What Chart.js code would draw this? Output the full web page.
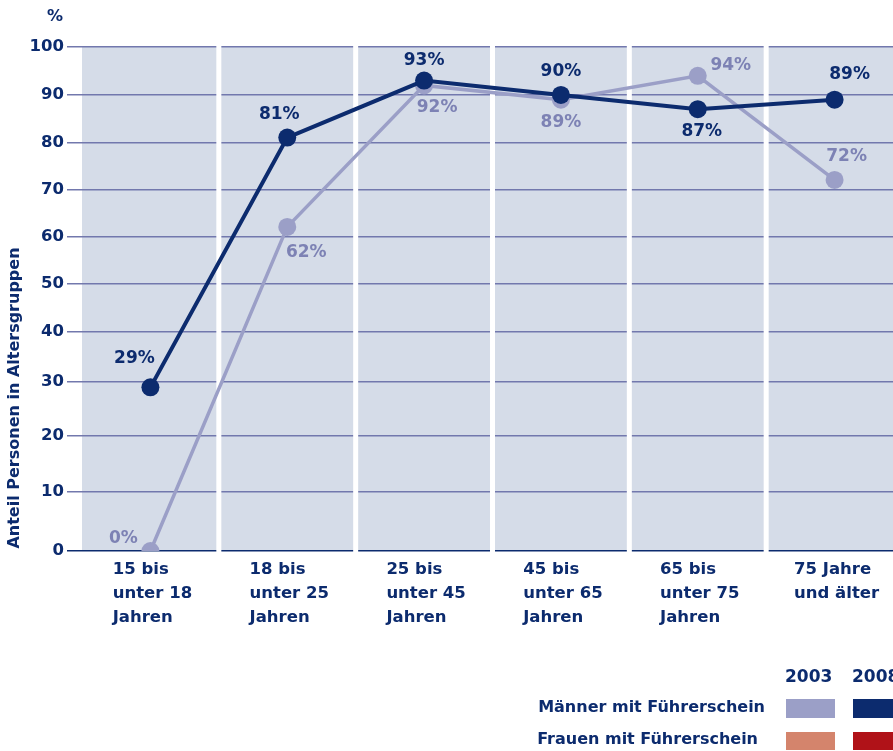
<!DOCTYPE html>
<html><head><meta charset="utf-8">
<script src="https://cdn.jsdelivr.net/npm/chart.js@4/dist/chart.umd.min.js"></script>
<style>
html,body{margin:0;padding:0;overflow:hidden;background:#fff;width:893px;height:751px}
#wrap{position:relative;width:920px;height:751px}
</style></head>
<body><div id="wrap"><canvas id="c" width="920" height="751"></canvas></div>
<script>
// ---- data ----
const categories = [["15 bis","unter 18","Jahren"],["18 bis","unter 25","Jahren"],["25 bis","unter 45","Jahren"],["45 bis","unter 65","Jahren"],["65 bis","unter 75","Jahren"],["75 Jahre","und älter"]];
const maenner2003 = [0, 62, 92, 89, 94, 72];
const maenner2008 = [29, 81, 93, 90, 87, 89];
const yTickValues = [0, 10, 20, 30, 40, 50, 60, 70, 80, 90, 100];
const seriesYears = ["2003", "2008"];
const legendRows = ["Männer mit Führerschein", "Frauen mit Führerschein"];
const yAxisTitle = "Anteil Personen in Altersgruppen";
const yUnit = "%";

// ---- layout / style (not data) ----
const yTickFractions = [0, .1171, .2290, .3353, .4345, .5302, .6244, .7177, .8109, .9048, 1];
const label2008Offsets = [[-16,-29],[-8,-23],[0,-20],[0,-23],[4,22],[15,-25]];
const label2003Offsets = [[-27,-12],[19,26],[13,22],[0,23],[33,-10],[12,-23]];
const NAVY = '#0c2b6e', LIGHT = '#9b9fc7', LIGHT_TXT = '#7d82b4', GRID = '#7278ad', BG = '#d5dce8';
const FEM03 = '#d4846c', FEM08 = '#b01218';
const FONT = '"DejaVu Sans", sans-serif';

function toFraction(v){
  for (let i=0;i<yTickValues.length-1;i++){
    const a=yTickValues[i], b=yTickValues[i+1];
    if (v<=b || i===yTickValues.length-2){
      return yTickFractions[i] + (v-a)/(b-a)*(yTickFractions[i+1]-yTickFractions[i]);
    }
  }
  return 0;
}
function fromFraction(f){
  for (let i=0;i<yTickFractions.length-1;i++){
    const a=yTickFractions[i], b=yTickFractions[i+1];
    if (f<=b || i===yTickFractions.length-2){
      return yTickValues[i] + (f-a)/(b-a)*(yTickValues[i+1]-yTickValues[i]);
    }
  }
  return 0;
}
class PiecewiseScale extends Chart.LinearScale {
  getPixelForValue(value){ return value===null?NaN:this.getPixelForDecimal(toFraction(value)); }
  getValueForPixel(pixel){ return fromFraction(this.getDecimalForPixel(pixel)); }
}
PiecewiseScale.id = 'piecewise';
PiecewiseScale.defaults = Chart.LinearScale.defaults;
Chart.register(PiecewiseScale);

const decor = {
  id: 'decor',
  beforeDraw(chart){
    const {ctx, chartArea:a} = chart;
    ctx.save();
    ctx.fillStyle = BG;
    ctx.fillRect(a.left, a.top, a.right-a.left, a.bottom-a.top);
    ctx.restore();
  },
  beforeDatasetsDraw(chart){
    const {ctx, chartArea:a} = chart;
    const w = (a.right-a.left)/categories.length;
    ctx.save();
    ctx.fillStyle = '#fff';
    for (let i=1;i<categories.length;i++){
      const xb = a.left + i*w;
      ctx.fillRect(xb-2.5, a.top-2, 5, a.bottom-a.top+4);
    }
    ctx.restore();
  },
  afterDraw(chart){
    const {ctx, chartArea:a, scales:{x,y}} = chart;
    ctx.save();
    ctx.font = 'bold 16.5px ' + FONT;
    ctx.textBaseline = 'middle';
    // x labels
    ctx.fillStyle = NAVY;
    ctx.textAlign = 'left';
    categories.forEach((lines,i)=>{
      const cx = x.getPixelForValue(i);
      const mw = Math.max(...lines.map(l=>ctx.measureText(l).width));
      lines.forEach((l,j)=> ctx.fillText(l, cx-mw/2+2, a.bottom+19+j*24));
    });
    // data labels
    ctx.font = 'bold 17px ' + FONT;
    ctx.textAlign = 'center';
    maenner2008.forEach((v,i)=>{
      ctx.fillStyle = NAVY;
      ctx.fillText(v+'%', x.getPixelForValue(i)+label2008Offsets[i][0], y.getPixelForValue(v)+label2008Offsets[i][1]);
    });
    maenner2003.forEach((v,i)=>{
      ctx.fillStyle = LIGHT_TXT;
      ctx.fillText(v+'%', x.getPixelForValue(i)+label2003Offsets[i][0], y.getPixelForValue(v)+label2003Offsets[i][1]);
    });
    // unit
    ctx.fillStyle = NAVY;
    ctx.font = 'bold 16px ' + FONT;
    ctx.fillText(yUnit, 55, 17);
    // y title
    ctx.save();
    ctx.translate(15, 398);
    ctx.rotate(-Math.PI/2);
    ctx.fillText(yAxisTitle, 0, 0);
    ctx.restore();
    // legend
    ctx.font = 'bold 17px ' + FONT;
    ctx.textAlign = 'left';
    ctx.fillText(seriesYears[0], 785, 678);
    ctx.fillText(seriesYears[1], 852, 678);
    ctx.font = 'bold 16px ' + FONT;
    ctx.textAlign = 'right';
    ctx.fillText(legendRows[0], 765, 708);
    ctx.fillText(legendRows[1], 758, 740);
    ctx.fillStyle = LIGHT; ctx.fillRect(786, 699, 49, 19);
    ctx.fillStyle = NAVY; ctx.fillRect(853, 699, 49, 19);
    ctx.fillStyle = FEM03; ctx.fillRect(786, 732, 49, 18);
    ctx.fillStyle = FEM08; ctx.fillRect(853, 732, 49, 18);
    ctx.restore();
  }
};

new Chart(document.getElementById('c'), {
  type: 'line',
  data: {
    labels: categories.map(c=>c.join(' ')),
    datasets: [
      { label: '2008', data: maenner2008, borderColor: NAVY, backgroundColor: NAVY, borderWidth: 4,
        pointRadius: 9, pointHoverRadius: 9, pointBorderWidth: 0, tension: 0, order: 0 },
      { label: '2003', data: maenner2003, borderColor: LIGHT, backgroundColor: LIGHT, borderWidth: 3.5,
        pointRadius: 9, pointHoverRadius: 9, pointBorderWidth: 0, tension: 0, order: 1 }
    ]
  },
  options: {
    responsive: false,
    animation: false,
    events: [],
    layout: { padding: { top: 47, left: 0, right: 17, bottom: 0 } },
    plugins: { legend: { display: false }, tooltip: { enabled: false } },
    scales: {
      x: {
        type: 'category', offset: true,
        grid: { display: false }, border: { display: false },
        ticks: { display: false },
        afterFit(s){ s.height = 200; }
      },
      y: {
        type: 'piecewise', min: 0, max: 100,
        afterBuildTicks(s){ s.ticks = yTickValues.map(v=>({value:v})); },
        afterFit(s){ s.width = 82; },
        border: { display: false },
        grid: {
          color: ctx => ctx.tick && ctx.tick.value === 0 ? NAVY : GRID,
          lineWidth: 1.5, tickLength: 15
        },
        ticks: { color: NAVY, padding: 3, font: { family: FONT, size: 16.5, weight: 'bold' } }
      }
    }
  },
  plugins: [decor]
});
</script>
</body></html>
